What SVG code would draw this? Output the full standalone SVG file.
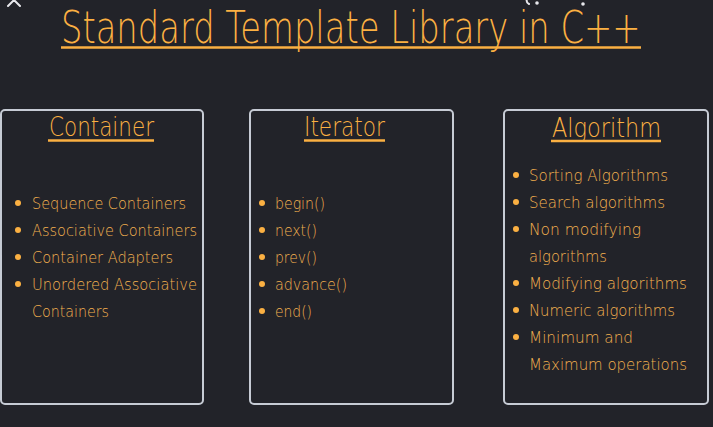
<svg xmlns="http://www.w3.org/2000/svg" width="713" height="427" viewBox="0 0 713 427">
<style>
  .bg { fill: #222329; }
  .box { fill: #222329; stroke: #c6cbd4; stroke-width: 2; }
  .title { font-family: "DejaVu Sans", "Liberation Sans", sans-serif; font-weight: 200; fill: #fbb042; }
  .item { font-family: "DejaVu Sans", "Liberation Sans", sans-serif; font-weight: 200; font-size: 16.5px; fill: #f3b14f; }
  .ul { stroke: #fbb042; stroke-width: 2.5; }
  .dot { fill: #fbb042; }
  .art { fill: none; stroke: #e8e8ec; stroke-width: 2; stroke-linecap: round; }
</style>
<rect class="bg" x="0" y="0" width="713" height="427"/>
<g id="artifacts">
  <path class="art" d="M8 6 L14 0 M20 6 L14 0"/>
  <path class="art" d="M527 -1 A4 4 0 0 0 529 4"/>
  <circle cx="537" cy="3" r="1.8" fill="#e8e8ec"/>
  <circle cx="583" cy="4" r="1.8" fill="#e8e8ec"/>
</g>
<g id="title">
  <text class="title" transform="translate(61 43) scale(0.7 1)" x="0" y="0" font-size="44" textLength="828" lengthAdjust="spacingAndGlyphs">Standard Template Library in C++</text>
  <line class="ul" x1="61" y1="47.5" x2="641" y2="47.5" stroke-width="3"/>
</g>
<g id="container">
  <rect class="box" x="1" y="110" width="202" height="294" rx="4"/>
  <text class="title" x="49" y="136" font-size="26" textLength="105" lengthAdjust="spacingAndGlyphs">Container</text>
  <line class="ul" x1="48" y1="140.5" x2="154" y2="140.5"/>
  <circle class="dot" cx="18" cy="203" r="3"/>
  <circle class="dot" cx="18" cy="230" r="3"/>
  <circle class="dot" cx="18" cy="257" r="3"/>
  <circle class="dot" cx="18" cy="284" r="3"/>
  <text class="item" x="32" y="209" textLength="154" lengthAdjust="spacingAndGlyphs">Sequence Containers</text>
  <text class="item" x="32" y="236" textLength="165" lengthAdjust="spacingAndGlyphs">Associative Containers</text>
  <text class="item" x="32" y="263" textLength="141" lengthAdjust="spacingAndGlyphs">Container Adapters</text>
  <text class="item" x="32" y="290" textLength="165" lengthAdjust="spacingAndGlyphs">Unordered Associative</text>
  <text class="item" x="32" y="317" textLength="77" lengthAdjust="spacingAndGlyphs">Containers</text>
</g>
<g id="iterator">
  <rect class="box" x="250" y="110" width="203" height="294" rx="4"/>
  <text class="title" x="304" y="136" font-size="26" textLength="81" lengthAdjust="spacingAndGlyphs">Iterator</text>
  <line class="ul" x1="304" y1="140.5" x2="385" y2="140.5"/>
  <circle class="dot" cx="262" cy="203" r="3"/>
  <circle class="dot" cx="262" cy="230" r="3"/>
  <circle class="dot" cx="262" cy="257" r="3"/>
  <circle class="dot" cx="262" cy="284" r="3"/>
  <circle class="dot" cx="262" cy="311" r="3"/>
  <text class="item" x="275" y="209" textLength="50" lengthAdjust="spacingAndGlyphs">begin()</text>
  <text class="item" x="275" y="236" textLength="42" lengthAdjust="spacingAndGlyphs">next()</text>
  <text class="item" x="275" y="263" textLength="42" lengthAdjust="spacingAndGlyphs">prev()</text>
  <text class="item" x="275" y="290" textLength="72" lengthAdjust="spacingAndGlyphs">advance()</text>
  <text class="item" x="275" y="317" textLength="37" lengthAdjust="spacingAndGlyphs">end()</text>
</g>
<g id="algorithm">
  <rect class="box" x="504" y="110" width="204" height="294" rx="4"/>
  <text class="title" x="552" y="137" font-size="26" textLength="109" lengthAdjust="spacingAndGlyphs">Algorithm</text>
  <line class="ul" x1="551" y1="141" x2="661" y2="141"/>
  <circle class="dot" cx="516" cy="175" r="3"/>
  <circle class="dot" cx="516" cy="202" r="3"/>
  <circle class="dot" cx="516" cy="229" r="3"/>
  <circle class="dot" cx="516" cy="283" r="3"/>
  <circle class="dot" cx="516" cy="310" r="3"/>
  <circle class="dot" cx="516" cy="337" r="3"/>
  <text class="item" x="529" y="181" textLength="139" lengthAdjust="spacingAndGlyphs">Sorting Algorithms</text>
  <text class="item" x="529" y="208" textLength="136" lengthAdjust="spacingAndGlyphs">Search algorithms</text>
  <text class="item" x="529" y="235" textLength="112" lengthAdjust="spacingAndGlyphs">Non modifying</text>
  <text class="item" x="529" y="262" textLength="78" lengthAdjust="spacingAndGlyphs">algorithms</text>
  <text class="item" x="529" y="289" textLength="158" lengthAdjust="spacingAndGlyphs">Modifying algorithms</text>
  <text class="item" x="529" y="316" textLength="146" lengthAdjust="spacingAndGlyphs">Numeric algorithms</text>
  <text class="item" x="529" y="343" textLength="104" lengthAdjust="spacingAndGlyphs">Minimum and</text>
  <text class="item" x="529" y="370" textLength="158" lengthAdjust="spacingAndGlyphs">Maximum operations</text>
</g>
</svg>
